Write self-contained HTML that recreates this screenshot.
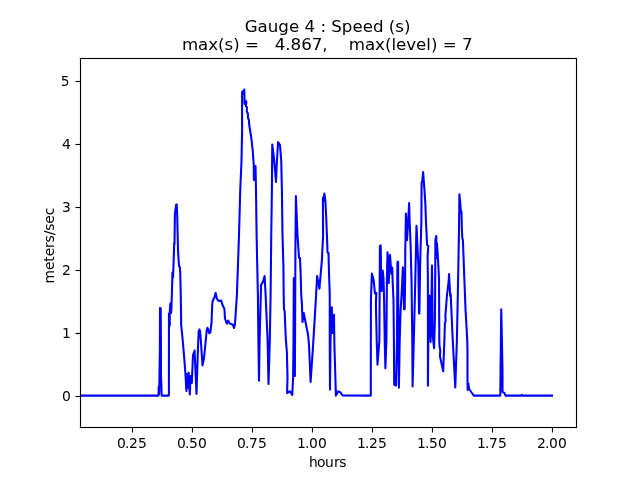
<!DOCTYPE html>
<html lang="en">
<head>
<meta charset="utf-8">
<title>Gauge 4 : Speed (s)</title>
<style>
html,body{margin:0;padding:0;background:#fff;}
body{width:640px;height:480px;overflow:hidden;}
svg{display:block;}
text{font-family:"DejaVu Sans","Liberation Sans",sans-serif;fill:#000;}
.t{font-size:13.89px;}
.ti{font-size:16.67px;}
</style>
</head>
<body>
<svg width="640" height="480" viewBox="0 0 640 480">
<rect x="0" y="0" width="640" height="480" fill="#fff"/>
<clipPath id="c"><rect x="80" y="57.6" width="496" height="369.6"/></clipPath>
<g clip-path="url(#c)">
<polyline fill="none" stroke="#0000ff" stroke-width="2.08" stroke-linejoin="round" stroke-linecap="square" points="79.00,395.60 158.50,395.60 158.70,386.50 159.20,394.00 159.85,350.00 160.00,308.00 160.70,308.20 160.95,350.00 161.00,375.00 161.70,395.60 168.90,395.60 168.95,313.50 169.80,325.50 169.70,313.00 170.30,303.60 171.10,313.00 171.40,309.00 172.30,280.00 172.40,272.50 173.00,277.50 173.60,262.00 174.00,250.00 174.20,243.00 174.50,244.00 174.90,214.00 176.20,204.50 176.70,204.40 177.20,215.00 178.00,250.00 179.00,266.00 179.80,267.00 180.20,272.00 180.60,287.50 181.00,310.00 181.20,325.00 182.70,340.00 184.30,359.00 185.50,375.00 186.40,391.00 187.00,374.00 187.60,388.00 188.60,372.50 189.80,394.50 190.60,376.00 191.80,383.00 193.00,355.00 194.60,350.50 196.50,394.00 197.90,350.00 198.70,331.50 199.40,329.40 200.10,331.50 200.80,340.00 202.50,365.50 204.00,358.00 206.00,338.00 206.80,329.50 207.50,327.80 208.20,329.50 209.20,333.20 210.30,332.50 211.50,323.00 212.20,305.00 212.60,301.00 214.40,297.50 215.60,293.00 216.90,298.70 218.70,301.00 221.20,300.60 222.50,305.00 224.40,308.70 225.00,318.75 226.90,323.75 228.10,320.60 230.00,323.75 232.75,324.40 234.00,328.00 235.00,323.75 236.25,305.00 236.90,295.00 238.50,250.00 239.00,235.00 240.25,190.00 241.50,161.00 242.10,130.00 242.10,92.50 242.50,91.30 243.00,93.50 244.30,89.50 244.60,104.00 245.30,100.50 246.40,101.80 245.90,106.00 246.90,107.00 246.80,111.50 247.90,113.50 247.90,117.50 248.90,120.00 249.20,124.50 250.00,130.00 251.25,137.50 252.75,151.00 253.75,165.00 253.90,180.00 255.50,166.00 256.00,190.00 256.60,235.00 256.90,250.00 257.90,295.00 258.40,340.00 259.00,380.80 259.60,340.00 261.10,285.00 263.10,281.25 264.60,276.00 265.60,295.00 267.60,340.00 268.50,384.00 269.80,340.00 270.60,295.00 271.25,235.00 271.90,190.00 272.25,144.60 273.75,156.00 274.75,167.50 276.00,182.00 276.90,161.00 278.10,142.10 280.00,145.00 281.25,161.00 281.90,190.00 282.50,235.00 283.40,266.00 283.70,295.00 284.00,309.00 284.70,311.50 285.20,325.00 285.90,340.00 286.90,352.50 287.50,377.50 287.10,393.00 290.00,391.25 292.25,395.00 293.10,377.50 293.50,340.00 293.80,278.00 294.90,376.00 295.40,250.00 295.90,196.00 297.50,235.00 299.00,257.50 300.00,258.00 300.60,272.50 301.25,295.00 301.90,303.75 302.50,322.00 303.75,313.00 305.60,322.50 308.10,335.00 309.00,345.00 310.60,382.00 313.10,345.00 315.60,303.75 317.10,276.00 319.40,288.75 321.90,260.00 323.10,235.00 322.90,197.50 323.50,201.00 324.40,193.60 325.30,200.00 326.10,215.00 326.70,230.00 327.30,245.00 327.50,252.50 328.50,253.00 329.00,272.50 329.75,295.00 329.75,345.00 330.00,389.60 330.50,340.00 331.80,307.30 332.50,333.00 334.00,314.80 334.40,345.00 335.00,365.00 335.90,395.60 338.10,391.25 340.60,392.50 342.50,395.40 370.80,395.60 370.90,300.00 371.90,273.50 373.60,280.00 375.00,293.50 376.30,293.00 375.90,304.00 376.70,340.00 377.50,364.60 379.40,340.00 379.70,280.00 379.90,246.00 380.70,245.40 381.00,270.00 381.60,291.00 382.70,270.50 383.50,278.00 384.10,300.00 384.70,340.00 385.40,368.30 386.40,340.00 386.90,280.00 387.50,252.30 388.20,262.00 388.75,283.00 389.40,262.00 390.00,254.80 390.80,266.00 391.40,274.00 392.20,267.50 392.80,285.00 393.50,300.00 393.90,340.00 394.20,384.50 396.00,385.50 397.00,340.00 397.40,262.20 398.10,261.60 398.40,340.00 398.90,387.70 399.70,340.00 400.60,310.00 401.60,295.00 402.90,267.30 403.40,285.00 404.00,309.30 404.70,309.30 405.10,280.00 405.30,250.00 405.90,213.50 407.00,240.30 408.50,215.00 409.15,203.00 409.60,220.00 410.60,245.00 411.50,280.00 412.30,340.00 412.60,386.40 413.80,340.00 415.30,280.00 416.50,225.80 417.40,245.00 418.40,266.00 419.00,313.50 419.40,313.50 420.10,266.00 421.40,220.00 421.60,183.00 422.30,181.00 423.10,172.10 424.40,189.00 425.40,205.00 425.90,220.00 427.10,245.00 428.30,246.00 427.60,256.00 427.90,280.00 427.90,385.80 428.30,340.00 429.50,295.50 430.60,342.00 431.40,300.00 432.00,265.60 432.40,300.00 432.70,335.00 434.10,348.30 434.90,320.00 435.10,300.00 435.40,240.00 436.25,236.00 436.50,258.00 436.90,243.00 437.50,251.00 438.60,270.00 439.00,280.00 439.30,340.00 439.50,346.00 440.30,350.50 439.90,356.00 441.00,361.00 443.20,371.20 444.40,340.00 444.90,323.00 445.60,321.50 445.40,316.00 446.90,296.00 448.75,280.00 449.00,274.10 449.60,285.00 450.20,296.00 450.70,294.00 451.00,302.00 452.75,340.00 455.25,387.40 456.90,340.00 458.10,280.00 459.00,230.00 459.40,194.20 460.40,205.00 461.00,213.00 461.50,212.00 461.90,230.00 462.30,238.00 462.90,240.00 464.40,280.00 465.60,311.00 467.25,340.00 467.50,352.50 467.50,383.00 467.70,390.00 468.40,383.50 468.90,388.50 470.20,390.50 472.50,393.75 473.75,395.60 500.30,395.60 500.90,340.00 501.25,309.20 501.90,340.00 502.50,371.00 502.50,392.00 504.40,393.00 505.60,395.60 521.30,395.60 521.80,394.90 522.30,395.60 552.00,395.60"/>
</g>
<g shape-rendering="crispEdges">
<rect x="79" y="57" width="3" height="372" fill="#000" fill-opacity="0.055"/>
<rect x="575" y="57" width="3" height="372" fill="#000" fill-opacity="0.055"/>
<rect x="79" y="57" width="499" height="3" fill="#000" fill-opacity="0.055"/>
<rect x="79" y="426" width="499" height="3" fill="#000" fill-opacity="0.055"/>
<rect x="131" y="428" width="3" height="4" fill="#000" fill-opacity="0.055"/><rect x="132" y="432" width="1" height="1" fill="#000" fill-opacity="0.5"/><rect x="132" y="427" width="1" height="5" fill="#000"/>
<rect x="191" y="428" width="3" height="4" fill="#000" fill-opacity="0.055"/><rect x="192" y="432" width="1" height="1" fill="#000" fill-opacity="0.5"/><rect x="192" y="427" width="1" height="5" fill="#000"/>
<rect x="251" y="428" width="3" height="4" fill="#000" fill-opacity="0.055"/><rect x="252" y="432" width="1" height="1" fill="#000" fill-opacity="0.5"/><rect x="252" y="427" width="1" height="5" fill="#000"/>
<rect x="311" y="428" width="3" height="4" fill="#000" fill-opacity="0.055"/><rect x="312" y="432" width="1" height="1" fill="#000" fill-opacity="0.5"/><rect x="312" y="427" width="1" height="5" fill="#000"/>
<rect x="371" y="428" width="3" height="4" fill="#000" fill-opacity="0.055"/><rect x="372" y="432" width="1" height="1" fill="#000" fill-opacity="0.5"/><rect x="372" y="427" width="1" height="5" fill="#000"/>
<rect x="431" y="428" width="3" height="4" fill="#000" fill-opacity="0.055"/><rect x="432" y="432" width="1" height="1" fill="#000" fill-opacity="0.5"/><rect x="432" y="427" width="1" height="5" fill="#000"/>
<rect x="491" y="428" width="3" height="4" fill="#000" fill-opacity="0.055"/><rect x="492" y="432" width="1" height="1" fill="#000" fill-opacity="0.5"/><rect x="492" y="427" width="1" height="5" fill="#000"/>
<rect x="551" y="428" width="3" height="4" fill="#000" fill-opacity="0.055"/><rect x="552" y="432" width="1" height="1" fill="#000" fill-opacity="0.5"/><rect x="552" y="427" width="1" height="5" fill="#000"/>
<rect x="76" y="395" width="4" height="3" fill="#000" fill-opacity="0.055"/><rect x="75" y="396" width="1" height="1" fill="#000" fill-opacity="0.5"/><rect x="76" y="396" width="5" height="1" fill="#000"/>
<rect x="76" y="332" width="4" height="3" fill="#000" fill-opacity="0.055"/><rect x="75" y="333" width="1" height="1" fill="#000" fill-opacity="0.5"/><rect x="76" y="333" width="5" height="1" fill="#000"/>
<rect x="76" y="269" width="4" height="3" fill="#000" fill-opacity="0.055"/><rect x="75" y="270" width="1" height="1" fill="#000" fill-opacity="0.5"/><rect x="76" y="270" width="5" height="1" fill="#000"/>
<rect x="76" y="206" width="4" height="3" fill="#000" fill-opacity="0.055"/><rect x="75" y="207" width="1" height="1" fill="#000" fill-opacity="0.5"/><rect x="76" y="207" width="5" height="1" fill="#000"/>
<rect x="76" y="143" width="4" height="3" fill="#000" fill-opacity="0.055"/><rect x="75" y="144" width="1" height="1" fill="#000" fill-opacity="0.5"/><rect x="76" y="144" width="5" height="1" fill="#000"/>
<rect x="76" y="80" width="4" height="3" fill="#000" fill-opacity="0.055"/><rect x="75" y="81" width="1" height="1" fill="#000" fill-opacity="0.5"/><rect x="76" y="81" width="5" height="1" fill="#000"/>
<rect x="80" y="58" width="1" height="370" fill="#000"/>
<rect x="576" y="58" width="1" height="370" fill="#000"/>
<rect x="80" y="58" width="497" height="1" fill="#000"/>
<rect x="80" y="427" width="497" height="1" fill="#000"/>
</g>
<text class="t" x="117.04 124.94 129.04 137.88" y="448.4">0.25</text>
<text class="t" x="177.04 184.94 189.04 197.88" y="448.4">0.50</text>
<text class="t" x="237.04 244.94 249.04 257.88" y="448.4">0.75</text>
<text class="t" x="297.04 304.94 309.04 317.88" y="448.4">1.00</text>
<text class="t" x="357.04 364.94 369.04 377.88" y="448.4">1.25</text>
<text class="t" x="417.04 424.94 429.04 437.88" y="448.4">1.50</text>
<text class="t" x="477.04 484.94 489.04 497.88" y="448.4">1.75</text>
<text class="t" x="537.04 544.94 549.04 557.88" y="448.4">2.00</text>
<text class="t" x="70.9" y="400.55" text-anchor="end">0</text>
<text class="t" x="70.9" y="337.55" text-anchor="end">1</text>
<text class="t" x="70.9" y="274.55" text-anchor="end">2</text>
<text class="t" x="70.9" y="211.55" text-anchor="end">3</text>
<text class="t" x="70.9" y="148.55" text-anchor="end">4</text>
<text class="t" x="69.7" y="85.55" text-anchor="end">5</text>
<text class="t" x="309.1 317.1 325.1 333.9 339.35" y="466.6">hours</text>
<text class="t" transform="translate(54.3,283.4) rotate(-90)" letter-spacing="-0.145">meters/sec</text>
<text class="ti" x="327.6" y="32" text-anchor="middle">Gauge 4 : Speed (s)</text>
<text class="ti" x="327.2" y="50.0" text-anchor="middle" letter-spacing="-0.02" xml:space="preserve">max(s) =   4.867,    max(level) = 7</text>
</svg>
</body>
</html>
